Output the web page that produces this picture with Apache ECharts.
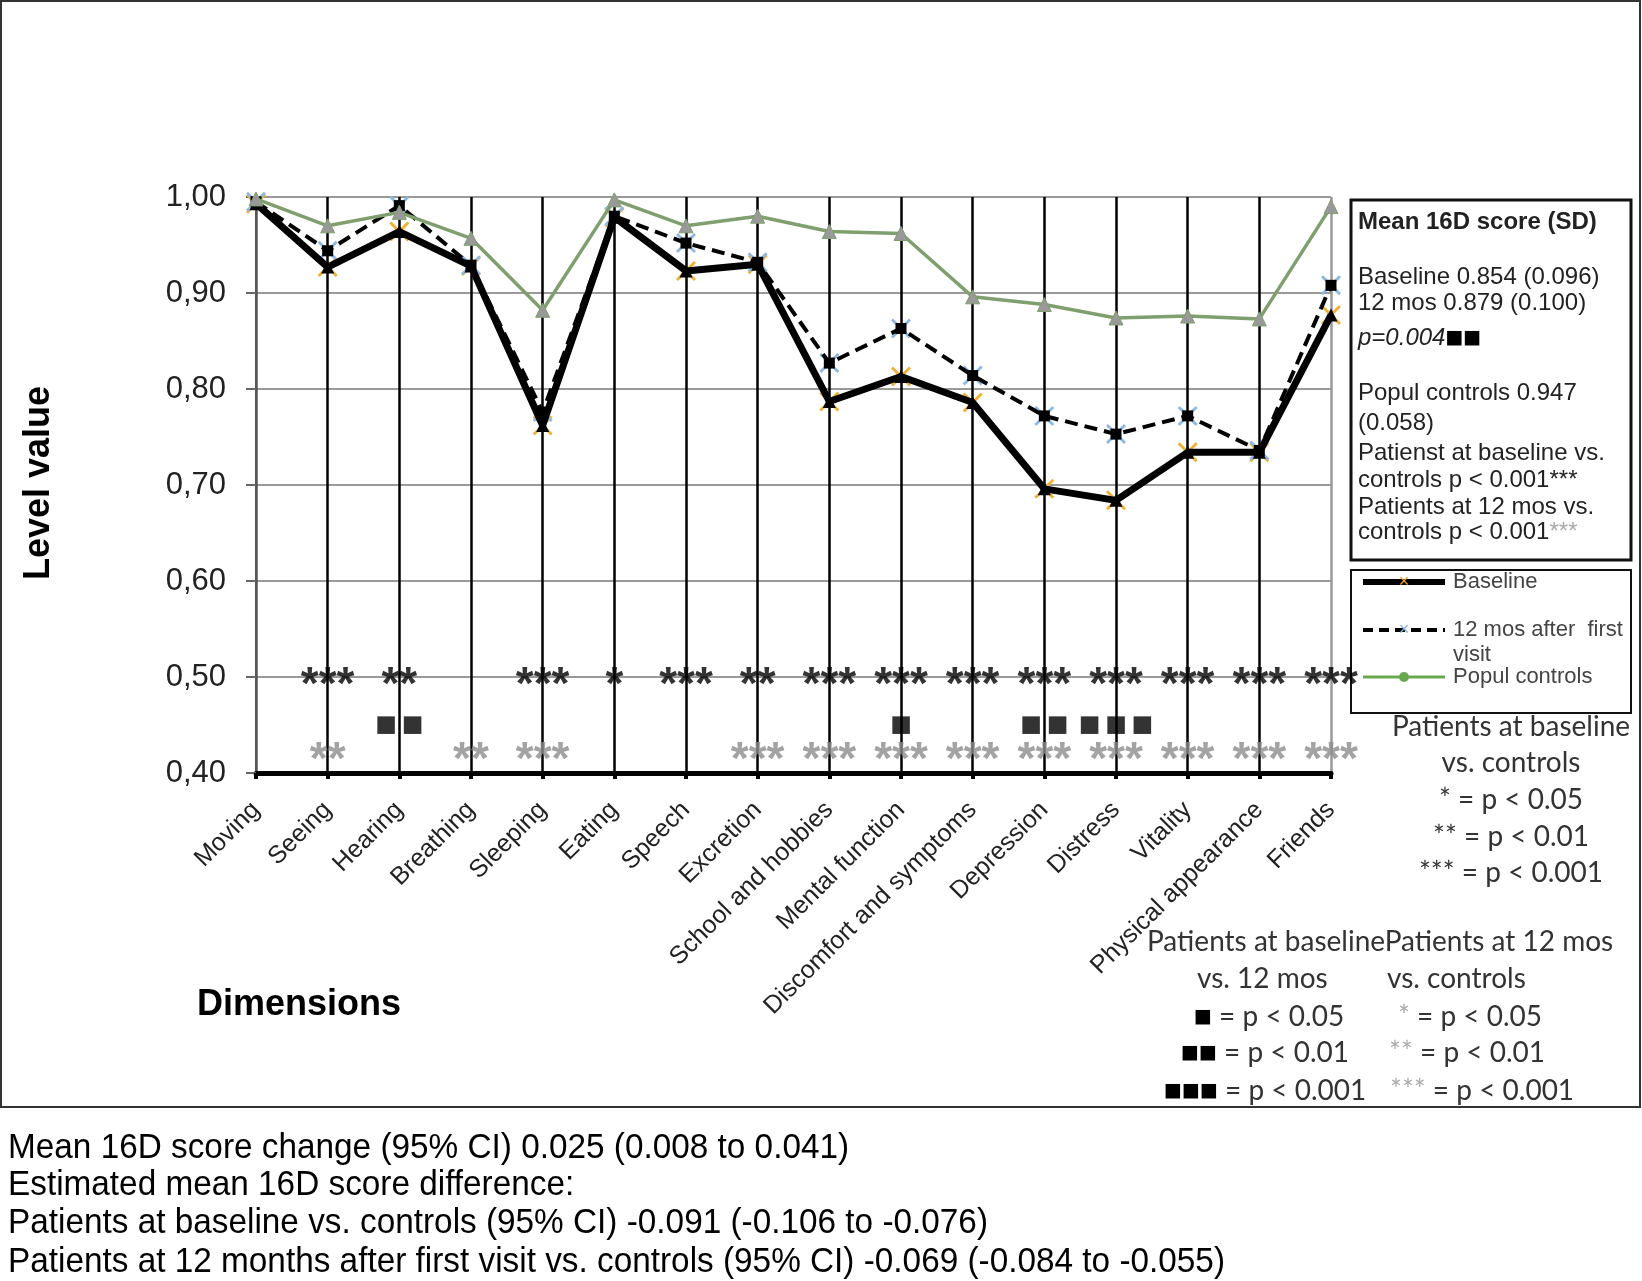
<!DOCTYPE html>
<html><head><meta charset="utf-8">
<script src="https://cdn.jsdelivr.net/npm/echarts@6/dist/echarts.min.js"></script>
<style>html,body{margin:0;padding:0;background:#fff}#c{width:1642px;height:1281px}</style>
</head><body><div id="c"></div>
<script>
const categories = ['Moving','Seeing','Hearing','Breathing','Sleeping','Eating','Speech','Excretion','School and hobbies','Mental function','Discomfort and symptoms','Depression','Distress','Vitality','Physical appearance','Friends'];
const baseline = [0.993, 0.927, 0.964, 0.928, 0.762, 0.979, 0.923, 0.930, 0.787, 0.813, 0.786, 0.696, 0.684, 0.734, 0.734, 0.877];
const mos12    = [0.995, 0.944, 0.991, 0.929, 0.776, 0.980, 0.952, 0.932, 0.827, 0.863, 0.814, 0.772, 0.753, 0.772, 0.736, 0.908];
const controls = [0.998, 0.970, 0.984, 0.957, 0.882, 0.997, 0.970, 0.980, 0.964, 0.962, 0.896, 0.888, 0.874, 0.876, 0.873, 0.990];
// significance marks per dimension
const baseVsCtrl = ['', '***', '**', '', '***', '*', '***', '**', '***', '***', '***', '***', '***', '***', '***', '***'];
const baseVs12   = ['', '', '■■', '', '', '', '', '', '', '■', '', '■■', '■■■', '', '', ''];
const m12VsCtrl  = ['', '**', '', '**', '***', '', '', '***', '***', '***', '***', '***', '***', '***', '***', '***'];
const yTicks = [0.4, 0.5, 0.6, 0.7, 0.8, 0.9, 1.0];
const seriesNames = ['Baseline', '12 mos after  first\nvisit', 'Popul controls'];

const ARIAL = '"Liberation Sans", Arial, sans-serif';
const CAL = 'Lato, "Open Sans", sans-serif';
const XPATH = 'path://M0,2 L2,0 L20,18 L18,20 Z M18,0 L20,2 L2,20 L0,18 Z';

function markRow(arr, level) {
  const d = [];
  arr.forEach((s, i) => { if (s) d.push({ value: [i, level], name: s }); });
  return d;
}
function markSeries(arr, level, color, font, size, bold, dy, spaced) {
  return {
    type: 'scatter', data: markRow(arr, level), symbolSize: 1, silent: true, z: 6,
    itemStyle: { color: 'rgba(0,0,0,0)' },
    label: { show: true, position: 'inside', color: color, fontFamily: font,
      formatter: p => spaced ? p.name.split('').join('\u2009') : p.name,
      fontSize: size, fontWeight: bold ? 'bold' : 'normal', offset: [0, dy] }
  };
}

const mctx = document.createElement('canvas').getContext('2d');
function measure(t, font) { mctx.font = font; return mctx.measureText(t).width; }

const foot = ['Mean 16D score change (95% CI) 0.025 (0.008 to 0.041)',
  'Estimated mean 16D score difference:',
  'Patients at baseline vs. controls (95% CI) -0.091 (-0.106 to -0.076)',
  'Patients at 12 months after first visit vs. controls (95% CI) -0.069 (-0.084 to -0.055)'];
const footFont = '35px "Liberation Sans"';
const footScale = 1217 / measure(foot[3], footFont);
const footY = [1148, 1185, 1223, 1262];

const graphics = [];
graphics.push({ type: 'rect', shape: { x: 1, y: 1, width: 1639, height: 1106 }, style: { fill: 'none', stroke: '#333', lineWidth: 2 }, z: 0 });
graphics.push({ type: 'text', x: 39, y: 483, rotation: Math.PI / 2, style: { text: 'Level value', font: 'bold 36px ' + ARIAL, fill: '#000', textAlign: 'center', textVerticalAlign: 'middle' } });
graphics.push({ type: 'text', x: 197, y: 1005, style: { text: 'Dimensions', font: 'bold 36px ' + ARIAL, fill: '#000', textAlign: 'left', textVerticalAlign: 'middle' } });
foot.forEach((t, i) => graphics.push({ type: 'text', x: 8, y: footY[i], scaleX: footScale,
  style: { text: t, font: footFont, fill: '#000', textAlign: 'left', textVerticalAlign: 'middle' } }));

// box 1
graphics.push({ type: 'rect', shape: { x: 1351, y: 200, width: 280, height: 360 }, style: { fill: '#fff', stroke: '#111', lineWidth: 3 }, z: 5 });
const b1 = [
  ['Mean 16D score (SD)', 222, true],
  ['Baseline 0.854 (0.096)', 277],
  ['12 mos 0.879 (0.100)', 303],
  ['Popul controls 0.947', 393],
  ['(0.058)', 423],
  ['Patienst at baseline vs.', 453],
  ['controls p < 0.001***', 480],
  ['Patients at 12 mos vs.', 507]
];
b1.forEach(r => graphics.push({ type: 'text', x: 1358, y: r[1], z: 11,
  style: { text: r[0], font: (r[2] ? 'bold 24px ' : '24px ') + ARIAL, fill: '#222', textAlign: 'left', textVerticalAlign: 'middle' } }));
graphics.push({ type: 'text', x: 1358, y: 338, z: 11, style: { text: '{i|p=0.004}{s|■■}', textAlign: 'left', textVerticalAlign: 'middle',
  rich: { i: { font: 'italic 24px ' + ARIAL, fill: '#222' }, s: { font: '19px "DejaVu Sans"', fill: '#000' } } } });
graphics.push({ type: 'text', x: 1358, y: 532, z: 11, style: { text: '{a|controls p < 0.001}{g|***}', textAlign: 'left', textVerticalAlign: 'middle',
  rich: { a: { font: '24px ' + ARIAL, fill: '#222' }, g: { font: '24px ' + ARIAL, fill: '#aaa' } } } });

// box 2 (legend)
graphics.push({ type: 'rect', shape: { x: 1351, y: 570, width: 280, height: 143 }, style: { fill: '#fff', stroke: '#111', lineWidth: 2 }, z: 5 });
graphics.push({ type: 'line', shape: { x1: 1363, y1: 582, x2: 1445, y2: 582 }, style: { stroke: '#000', lineWidth: 6 }, z: 11 });
graphics.push({ type: 'text', x: 1404, y: 582, z: 12, style: { text: '×', font: '18px ' + ARIAL, fill: '#e8a020', textAlign: 'center', textVerticalAlign: 'middle' } });
graphics.push({ type: 'line', shape: { x1: 1363, y1: 630, x2: 1445, y2: 630 }, style: { stroke: '#000', lineWidth: 4, lineDash: [10, 6] }, z: 11 });
graphics.push({ type: 'text', x: 1404, y: 630, z: 12, style: { text: '×', font: '18px ' + ARIAL, fill: '#7fb0e0', textAlign: 'center', textVerticalAlign: 'middle' } });
graphics.push({ type: 'line', shape: { x1: 1363, y1: 677, x2: 1445, y2: 677 }, style: { stroke: '#6aa84f', lineWidth: 3 }, z: 11 });
graphics.push({ type: 'circle', shape: { cx: 1404, cy: 677, r: 5 }, style: { fill: '#6aa84f' }, z: 12 });
[[seriesNames[0], 582], ['12 mos after  first', 630], ['visit', 655], [seriesNames[2], 677]].forEach(r =>
  graphics.push({ type: 'text', x: 1453, y: r[1], z: 11, style: { text: r[0], font: '22px ' + ARIAL, fill: '#444', textAlign: 'left', textVerticalAlign: 'middle' } }));

// significance key (right)
const key1 = [['Patients at baseline', 727], ['vs. controls', 763], ['* = p < 0.05', 800], ['** = p < 0.01', 837], ['*** = p < 0.001', 873]];
key1.forEach(r => graphics.push({ type: 'text', x: 1511, y: r[1], style: { text: r[0], font: '28px ' + CAL, fill: '#333', textAlign: 'center', textVerticalAlign: 'middle' } }));
const key2 = [
  ['Patients at baselinePatients at 12 mos', 1147, 942],
  ['vs. 12 mos', 1197, 979], ['vs. controls', 1387, 979],
  ['{k|■} = p < 0.05', 1194, 1017], ['{g|*} = p < 0.05', 1398, 1017],
  ['{k|■■} = p < 0.01', 1181, 1053], ['{g|**} = p < 0.01', 1389, 1053],
  ['{k|■■■} = p < 0.001', 1164, 1091], ['{g|***} = p < 0.001', 1390, 1091]
];
key2.forEach(r => graphics.push({ type: 'text', x: r[1], y: r[2], style: { text: r[0], font: '28px ' + CAL, fill: '#333', textAlign: 'left', textVerticalAlign: 'middle',
  rich: { k: { font: '19px "DejaVu Sans"', fill: '#000' }, g: { font: '28px ' + CAL, fill: '#aaa' } } } }));

const vColors = categories.map((c, i) => i === 0 ? '#555' : (i === categories.length - 1 ? '#999' : '#000'));

const option = {
  animation: false,
  backgroundColor: '#fff',
  grid: { left: 256, right: 311, top: 197, bottom: 508, containLabel: false },
  xAxis: {
    type: 'category', data: categories, boundaryGap: false,
    axisLine: { lineStyle: { color: '#000', width: 5 } },
    axisTick: { show: true, length: 6, lineStyle: { color: '#000', width: 4 } },
    axisLabel: { interval: 0, rotate: 45, margin: 33, fontFamily: ARIAL, fontSize: 25, color: '#222' },
    splitLine: { show: true, lineStyle: { color: vColors, width: 2.5 } }
  },
  yAxis: {
    type: 'value', min: 0.4, max: 1.0, interval: 0.1,
    axisLine: { show: true, lineStyle: { color: '#555', width: 2 } },
    axisTick: { show: true, length: 10, lineStyle: { color: '#666', width: 2 } },
    axisLabel: { margin: 30, fontFamily: ARIAL, fontSize: 31, color: '#222', formatter: v => v.toFixed(2).replace('.', ',') },
    splitLine: { show: true, lineStyle: { color: '#9a9a9a', width: 2 } }
  },
  series: [
    { type: 'line', name: 'bx', data: baseline, symbol: XPATH, symbolSize: 20, showSymbol: true, lineStyle: { opacity: 0 }, itemStyle: { color: '#f0b030' }, z: 2, silent: true },
    { type: 'line', name: 'mx', data: mos12, symbol: XPATH, symbolSize: 20, showSymbol: true, lineStyle: { opacity: 0 }, itemStyle: { color: '#8cb8e8' }, z: 2, silent: true },
    { type: 'line', name: seriesNames[0], data: baseline, symbol: 'triangle', symbolSize: 13, lineStyle: { color: '#000', width: 7 }, itemStyle: { color: '#000' }, z: 3 },
    { type: 'line', name: seriesNames[1], data: mos12, symbol: 'rect', symbolSize: 11, lineStyle: { color: '#000', width: 4, type: [13, 7] }, itemStyle: { color: '#000' }, z: 4 },
    { type: 'line', name: seriesNames[2], data: controls, symbol: 'triangle', symbolSize: 14, lineStyle: { color: '#7f9f6f', width: 3.5 }, itemStyle: { color: '#999', borderColor: '#7f9f6f', borderWidth: 1 }, z: 5 },
    markSeries(baseVsCtrl, 0.50, '#000', ARIAL, 46, true, 9, false),
    markSeries(baseVs12, 0.45, '#000', '"DejaVu Sans"', 23, false, 0, true),
    markSeries(m12VsCtrl, 0.422, '#8c8c8c', ARIAL, 46, true, 9, false)
  ],
  graphic: graphics
};
const chart = echarts.init(document.getElementById('c'), null, { renderer: 'canvas' });
chart.setOption(option);
</script>
</body></html>
